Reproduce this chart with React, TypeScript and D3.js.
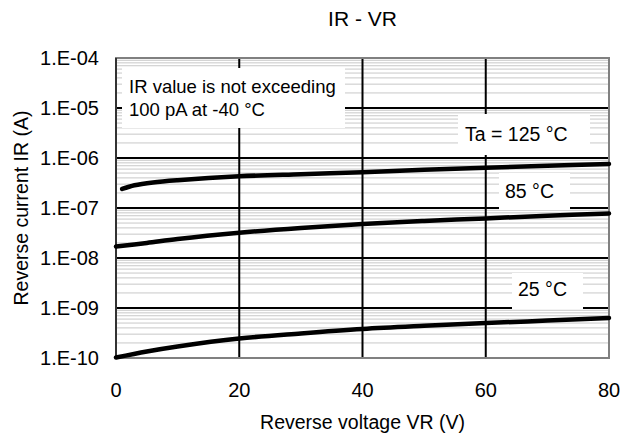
import React from "react";
import * as d3 from "d3";

// reverse voltage (V) / reverse current (A)
const vr125 = [1, 3, 6, 10, 20, 30, 40, 50, 60, 70, 80];
const ir125 = [2.4e-7, 2.85e-7, 3.25e-7, 3.6e-7, 4.3e-7, 4.75e-7, 5.2e-7, 5.8e-7, 6.4e-7, 7.0e-7, 7.6e-7];
const vr85 = [0, 5, 10, 20, 30, 40, 50, 60, 70, 80];
const ir85 = [1.7e-8, 2.0e-8, 2.4e-8, 3.2e-8, 4.0e-8, 4.8e-8, 5.5e-8, 6.2e-8, 7.0e-8, 7.8e-8];
const vr25 = [0, 5, 10, 20, 30, 40, 50, 60, 70, 80];
const ir25 = [1.02e-10, 1.35e-10, 1.7e-10, 2.45e-10, 3.1e-10, 3.8e-10, 4.4e-10, 5.0e-10, 5.6e-10, 6.3e-10];

const xTicks = [0, 20, 40, 60, 80];
const yTicks = [1e-4, 1e-5, 1e-6, 1e-7, 1e-8, 1e-9, 1e-10];
const yTickLabels = ["1.E-04", "1.E-05", "1.E-06", "1.E-07", "1.E-08", "1.E-09", "1.E-10"];

const margin = { top: 58, right: 23, bottom: 86, left: 116 };
const W = 632;
const H = 444;
const font = "'Liberation Sans', Arial, sans-serif";

export default function App() {
  const x = d3.scaleLinear().domain([0, 80]).range([margin.left, W - margin.right]);
  const y = d3.scaleLog().domain([1e-10, 1e-4]).range([H - margin.bottom, margin.top]);

  const line = d3
    .line<[number, number]>()
    .x((d) => x(d[0]))
    .y((d) => y(d[1]))
    .curve(d3.curveCatmullRom);

  const series = [
    vr125.map((v, i) => [v, ir125[i]] as [number, number]),
    vr85.map((v, i) => [v, ir85[i]] as [number, number]),
    vr25.map((v, i) => [v, ir25[i]] as [number, number]),
  ];

  // minor grid: 2..9 in every decade
  const minor: number[] = [];
  for (let e = -10; e < -4; e++) {
    for (let m = 2; m <= 9; m++) minor.push(m * Math.pow(10, e));
  }

  const x0 = x(0), x1 = x(80), yTop = y(1e-4), yBot = y(1e-10);

  return (
    <svg width={W} height={H} style={{ position: "absolute", left: 0, top: 0, fontFamily: font }}>
      <rect width={W} height={H} fill="#fff" />
      <text x={(x0 + x1) / 2} y={26} fontSize={21} textAnchor="middle">IR - VR</text>

      {minor.map((v, i) => (
        <line key={"m" + i} x1={x0} x2={x1} y1={y(v)} y2={y(v)} stroke="#c8c8c8" strokeWidth={1} />
      ))}
      {yTicks.map((v, i) => (
        <line key={"h" + i} x1={x0} x2={x1} y1={y(v)} y2={y(v)} stroke="#000" strokeWidth={2} />
      ))}
      {xTicks.map((v, i) => (
        <line key={"v" + i} x1={x(v)} x2={x(v)} y1={yTop} y2={yBot} stroke="#000" strokeWidth={2} />
      ))}

      {/* label boxes */}
      <rect x={122} y={68} width={223} height={60} fill="#fff" />
      <text x={129} y={93} fontSize={18.5}>IR value is not exceeding</text>
      <text x={129} y={116} fontSize={18.5}>100 pA at -40 °C</text>

      <rect x={458} y={114} width={132} height={41} fill="#fff" />
      <text x={465} y={141} fontSize={19.5}>Ta = 125 °C</text>
      <rect x={499} y={173} width={71} height={37} fill="#fff" />
      <text x={505} y={198} fontSize={19.5}>85 °C</text>
      <rect x={512} y={273} width={71} height={36} fill="#fff" />
      <text x={518} y={296} fontSize={19.5}>25 °C</text>

      <rect x={x0} y={yTop} width={x1 - x0} height={yBot - yTop} fill="none" stroke="#808080" strokeWidth={2} />
      <line x1={x0} x2={x0} y1={yTop} y2={yBot} stroke="#333" strokeWidth={2} />

      {series.map((s, i) => (
        <path key={"s" + i} d={line(s) || ""} fill="none" stroke="#000" strokeWidth={4.5} strokeLinecap="round" />
      ))}

      {yTicks.map((v, i) => (
        <text key={"yt" + i} x={99} y={y(v)} dy="0.36em" fontSize={20} textAnchor="end">{yTickLabels[i]}</text>
      ))}
      {xTicks.map((v, i) => (
        <text key={"xt" + i} x={x(v)} y={397} fontSize={20} textAnchor="middle">{v}</text>
      ))}
      <text x={(x0 + x1) / 2} y={429} fontSize={19.5} textAnchor="middle">Reverse voltage VR (V)</text>
      <text transform={`translate(28,${(yTop + yBot) / 2}) rotate(-90)`} fontSize={19.5} textAnchor="middle">Reverse current IR (A)</text>
    </svg>
  );
}
